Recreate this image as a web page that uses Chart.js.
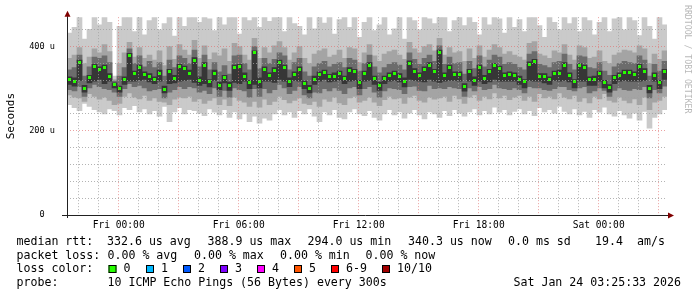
<!DOCTYPE html>
<html>
<head>
<meta charset="utf-8">
<script src="https://cdn.jsdelivr.net/npm/chart.js@4.4.1/dist/chart.umd.min.js"></script>
<style>
  html, body { margin: 0; padding: 0; background: #fff; }
  canvas { display: block; }
</style>
</head>
<body>
<canvas id="smoke" width="697" height="297"></canvas>
<script>
// --- time axis, hours counted from Fri 00:00 ---
const startHour = -31 / 12;   // Thu 21:25
const endHour = 329 / 12;     // Sat 03:25
const stepHour = 0.25;        // one column = 15 min

const xTickHours = [0, 6, 12, 18, 24];
const xTickLabels = ['Fri 00:00', 'Fri 06:00', 'Fri 12:00', 'Fri 18:00', 'Sat 00:00'];
const yTickValues = [0, 100, 200, 300, 400];
const yTickLabels = ['0  ', '100 u', '200 u', '300 u', '400 u'];

// median rtt per column (us)
const median = [
  322, 318, 362, 300, 326, 352, 345, 350, 330, 310,
  300, 322, 378, 335, 350, 333, 330, 322, 336, 298,
  340, 325, 352, 348, 337, 368, 320, 355, 316, 337,
  308, 326, 308, 350, 352, 330, 314, 385, 318, 346,
  332, 344, 362, 350, 318, 334, 345, 312, 300, 322,
  333, 338, 328, 330, 336, 324, 344, 340, 314, 336,
  355, 324, 308, 324, 332, 335, 330, 318, 360, 342,
  332, 346, 355, 340, 386, 332, 350, 333, 334, 305,
  340, 320, 350, 325, 340, 354, 348, 332, 333, 332,
  322, 316, 358, 364, 330, 329, 322, 336, 337, 356,
  331, 316, 354, 350, 322, 322, 336, 314, 302, 326,
  332, 338, 338, 334, 352, 342, 300, 332, 314, 340
];

// smoke: fastest / slowest ping per column
const outerLo = [
  262, 255, 248, 265, 258, 250, 245, 240, 252, 248,
  238, 255, 250, 260, 245, 252, 240, 248, 235, 258,
  222, 245, 255, 240, 250, 248, 242, 236, 252, 244,
  238, 250, 232, 245, 228, 240, 222, 235, 218, 230,
  225, 240, 250, 238, 245, 232, 248, 240, 252, 235,
  222, 245, 238, 250, 232, 228, 245, 252, 240, 236,
  248, 232, 225, 240, 250, 238, 245, 230, 242, 250,
  238, 228, 245, 240, 232, 248, 236, 250, 242, 235,
  245, 252, 238, 248, 240, 256, 244, 250, 238, 246,
  252, 240, 248, 236, 255, 245, 250, 242, 258, 246,
  240, 252, 238, 246, 232, 250, 244, 256, 240, 235,
  248, 238, 230, 242, 225, 246, 206, 232, 240, 250
];
const outerHi = [
  432, 446, 470, 418, 441, 470, 452, 470, 458, 330,
  448, 470, 470, 436, 470, 428, 462, 470, 440, 455,
  470, 425, 470, 448, 470, 470, 458, 470, 466, 438,
  470, 452, 470, 470, 430, 470, 462, 470, 446, 470,
  460, 470, 470, 436, 470, 455, 448, 428, 470, 442,
  470, 456, 470, 430, 464, 470, 446, 470, 422, 458,
  470, 438, 452, 470, 428, 442, 470, 418, 470, 462,
  440, 470, 466, 455, 470, 470, 436, 462, 470, 450,
  470, 458, 428, 470, 452, 470, 466, 432, 470, 446,
  464, 436, 470, 470, 450, 422, 470, 458, 440, 470,
  455, 470, 436, 470, 462, 428, 458, 470, 436, 466,
  470, 440, 470, 462, 426, 470, 448, 418, 470, 452
];

// 2nd and 9th ping
const midLo = [
  285, 280, 278, 270, 288, 282, 275, 280, 272, 262,
  265, 282, 290, 280, 276, 284, 272, 278, 270, 268,
  262, 275, 280, 278, 282, 270, 276, 265, 272, 278,
  262, 275, 260, 280, 272, 268, 258, 270, 256, 275,
  262, 270, 282, 274, 266, 272, 278, 265, 262, 270,
  258, 275, 270, 280, 266, 262, 278, 282, 268, 272,
  280, 268, 260, 274, 282, 276, 278, 265, 280, 284,
  272, 268, 280, 275, 278, 282, 270, 284, 276, 265,
  280, 285, 272, 282, 276, 290, 278, 284, 274, 280,
  284, 272, 282, 270, 288, 278, 282, 276, 290, 280,
  276, 284, 270, 278, 266, 282, 276, 288, 272, 268,
  280, 272, 266, 276, 262, 280, 250, 268, 272, 282
];
const midHi = [
  372, 380, 398, 360, 375, 395, 385, 405, 388, 322,
  360, 385, 410, 375, 398, 372, 380, 368, 390, 355,
  400, 370, 405, 392, 380, 415, 372, 402, 370, 385,
  378, 395, 365, 408, 400, 380, 368, 420, 372, 398,
  385, 402, 412, 398, 368, 385, 400, 372, 360, 382,
  390, 395, 375, 380, 392, 372, 398, 395, 362, 385,
  405, 378, 365, 382, 388, 392, 380, 370, 410, 395,
  385, 400, 405, 390, 420, 380, 398, 385, 388, 365,
  395, 372, 402, 375, 392, 405, 398, 382, 388, 380,
  375, 368, 408, 412, 382, 378, 372, 390, 385, 405,
  380, 368, 402, 398, 372, 375, 390, 365, 360, 380,
  385, 392, 390, 385, 402, 395, 360, 382, 370, 390
];

// 3rd and 8th ping
const innerLo = [
  298, 295, 305, 282, 302, 310, 305, 300, 298, 292,
  282, 300, 312, 305, 308, 302, 295, 298, 300, 278,
  292, 298, 305, 300, 305, 302, 292, 296, 288, 302,
  282, 296, 280, 302, 298, 295, 280, 300, 282, 300,
  290, 298, 310, 302, 288, 296, 305, 285, 278, 292,
  290, 300, 295, 302, 296, 288, 302, 305, 285, 300,
  305, 292, 280, 295, 302, 300, 298, 288, 305, 306,
  296, 295, 308, 300, 302, 300, 305, 302, 300, 282,
  302, 295, 305, 298, 300, 310, 302, 300, 298, 302,
  298, 290, 305, 302, 302, 298, 296, 300, 305, 305,
  298, 295, 302, 305, 290, 295, 302, 296, 282, 296,
  302, 298, 296, 300, 298, 305, 278, 298, 290, 306
];
const innerHi = [
  345, 350, 380, 330, 352, 375, 372, 378, 362, 318,
  330, 350, 395, 360, 378, 352, 365, 350, 362, 330,
  368, 350, 378, 372, 360, 392, 352, 380, 345, 362,
  340, 355, 335, 378, 380, 360, 345, 400, 348, 372,
  360, 370, 385, 378, 345, 362, 372, 340, 330, 352,
  360, 365, 352, 358, 362, 350, 372, 368, 342, 360,
  380, 352, 338, 350, 358, 362, 356, 345, 385, 370,
  358, 372, 380, 365, 402, 358, 375, 360, 362, 335,
  365, 348, 378, 352, 368, 380, 375, 358, 362, 358,
  350, 345, 382, 388, 358, 355, 350, 362, 365, 382,
  358, 345, 378, 376, 350, 348, 362, 342, 332, 352,
  360, 365, 362, 360, 378, 368, 330, 358, 342, 365
];

// 4th..7th ping
const coreLo = [
  310, 306, 320, 292, 314, 318, 322, 312, 318, 302,
  292, 310, 318, 318, 320, 322, 316, 312, 318, 290,
  312, 314, 318, 320, 322, 315, 308, 312, 304, 320,
  298, 314, 296, 315, 312, 318, 300, 310, 302, 318,
  318, 315, 322, 318, 305, 320, 318, 300, 290, 310,
  318, 322, 316, 318, 320, 312, 318, 320, 300, 318,
  320, 310, 296, 312, 318, 320, 316, 304, 322, 320,
  318, 316, 322, 318, 315, 318, 320, 320, 318, 294,
  318, 308, 318, 312, 316, 322, 318, 318, 318, 318,
  310, 302, 320, 318, 318, 314, 310, 320, 318, 320,
  316, 302, 318, 318, 308, 308, 318, 302, 292, 312,
  318, 320, 318, 318, 318, 320, 290, 318, 300, 322
];
const coreHi = [
  328, 326, 368, 308, 332, 358, 352, 356, 336, 314,
  306, 328, 384, 342, 356, 340, 336, 328, 344, 306,
  346, 332, 358, 354, 344, 374, 328, 362, 322, 344,
  316, 332, 316, 356, 358, 338, 320, 390, 326, 352,
  338, 350, 368, 356, 326, 340, 352, 318, 308, 330,
  340, 344, 334, 338, 342, 330, 350, 346, 320, 342,
  362, 330, 316, 330, 338, 342, 336, 326, 366, 348,
  338, 352, 362, 346, 392, 338, 356, 340, 340, 312,
  346, 328, 356, 332, 346, 360, 354, 338, 340, 338,
  330, 322, 364, 370, 336, 336, 328, 342, 344, 362,
  338, 322, 360, 356, 328, 330, 342, 320, 310, 332,
  338, 344, 344, 340, 358, 348, 308, 338, 320, 346
];

// legend texts
const rttStats = ['332.6 us avg', '388.9 us max', '294.0 us min', '340.3 us now', '0.0 ms sd', '19.4', 'am/s'];
const lossStats = ['0.00 % avg', '0.00 % max', '0.00 % min', '0.00 % now'];
const lossLabels = ['0', '1', '2', '3', '4', '5', '6-9', '10/10'];
const lossColors = ['#26ff00', '#00b8ff', '#0059ff', '#7e00ff', '#ff00ff', '#ff5500', '#ff0000', '#a10000'];
const probeText = '10 ICMP Echo Pings (56 Bytes) every 300s';
const stampText = 'Sat Jan 24 03:25:33 2026';

const MONO = '"DejaVu Sans Mono", monospace';
const minorGrid = 'rgba(160,160,160,0.8)';
const majorGrid = 'rgba(225,110,110,0.65)';

const xs = median.map((_, i) => startHour + stepHour * (i + 0.5));
const hourTicks = [];
for (let h = Math.ceil(startHour); h <= endHour; h++) hourTicks.push(h);
const yGrid = [];
for (let v = 0; v <= 460; v += 20) yGrid.push(v);

function band(lo, hi, color, order) {
  return {
    type: 'bar',
    data: lo.map((v, i) => ({ x: xs[i], y: [v, hi[i]] })),
    backgroundColor: color,
    borderWidth: 0,
    borderSkipped: false,
    barThickness: 5,
    grouped: false,
    order: order
  };
}

// small green block for the median marks
const dot = document.createElement('canvas');
dot.width = 3;
dot.height = 3;
const dctx = dot.getContext('2d');
dctx.fillStyle = lossColors[0];
dctx.fillRect(0, 0, 3, 3);

const rrdExtras = {
  id: 'rrdExtras',
  afterDraw(chart) {
    const ctx = chart.ctx;
    const a = chart.chartArea;
    ctx.save();

    // axes + arrows
    ctx.strokeStyle = '#212121';
    ctx.lineWidth = 1;
    ctx.beginPath();
    ctx.moveTo(a.left - 5, a.bottom + 0.5);
    ctx.lineTo(a.right + 2, a.bottom + 0.5);
    ctx.moveTo(a.left + 0.5, a.bottom + 3);
    ctx.lineTo(a.left + 0.5, a.top - 1);
    ctx.stroke();
    ctx.fillStyle = '#800000';
    ctx.beginPath();
    ctx.moveTo(a.right + 1, a.bottom - 2.5);
    ctx.lineTo(a.right + 7, a.bottom + 0.5);
    ctx.lineTo(a.right + 1, a.bottom + 3.5);
    ctx.fill();
    ctx.beginPath();
    ctx.moveTo(a.left - 2.5, a.top - 0.5);
    ctx.lineTo(a.left + 0.5, a.top - 6.5);
    ctx.lineTo(a.left + 3.5, a.top - 0.5);
    ctx.fill();

    // legend
    ctx.fillStyle = '#000';
    ctx.font = '11.6px ' + MONO;
    ctx.textBaseline = 'alphabetic';
    ctx.textAlign = 'left';
    ctx.fillText('median rtt:', 16.5, 245);
    [107, 207.5, 307.5, 408, 508, 595, 637].forEach((x, i) => ctx.fillText(rttStats[i], x, 245));
    ctx.fillText('packet loss:', 16.5, 258.5);
    [107.5, 194, 280, 365.5].forEach((x, i) => ctx.fillText(lossStats[i], x, 258.5));
    ctx.fillText('loss color:', 16.5, 272);
    [108.5, 146, 183, 220, 257, 294, 331, 382].forEach((x, i) => {
      ctx.fillStyle = lossColors[i];
      ctx.fillRect(x, 265, 8, 8);
      ctx.strokeStyle = '#000';
      ctx.strokeRect(x + 0.5, 265.5, 7, 7);
      ctx.fillStyle = '#000';
      ctx.fillText(lossLabels[i], x + 15, 272);
    });
    ctx.fillText('probe:', 16.5, 285.5);
    ctx.fillText(probeText, 107.5, 285.5);
    ctx.textAlign = 'right';
    ctx.fillText(stampText, 681, 285.5);

    // watermark
    ctx.translate(685, 5);
    ctx.rotate(Math.PI / 2);
    ctx.textAlign = 'left';
    ctx.fillStyle = '#b8b8b8';
    ctx.font = '8.2px ' + MONO;
    ctx.fillText('RRDTOOL / TOBI OETIKER', 0, 0);
    ctx.restore();
  }
};

new Chart(document.getElementById('smoke'), {
  type: 'bar',
  data: {
    datasets: [
      {
        type: 'line',
        data: median.map((v, i) => ({ x: xs[i], y: v })),
        showLine: false,
        pointStyle: dot,
        pointRadius: 2,
        order: 0
      },
      band(coreLo, coreHi, '#363636', 1),
      band(innerLo, innerHi, '#6c6c6c', 2),
      band(midLo, midHi, '#a4a4a4', 3),
      band(outerLo, outerHi, '#cacaca', 4)
    ]
  },
  options: {
    responsive: false,
    animation: false,
    events: [],
    layout: { padding: { top: 14, right: 30, left: 0, bottom: 0 } },
    plugins: { legend: { display: false }, tooltip: { enabled: false } },
    scales: {
      x: {
        type: 'linear',
        min: startHour,
        max: endHour,
        offset: false,
        afterBuildTicks: s => { s.ticks = hourTicks.map(v => ({ value: v })); },
        afterFit: s => { s.height = 82; },
        grid: {
          color: c => (c.tick && c.tick.value % 3 === 0) ? majorGrid : minorGrid,
          drawTicks: false,
          offset: false,
          z: 1
        },
        border: { display: false, dash: [1, 2] },
        ticks: {
          autoSkip: false,
          maxRotation: 0,
          padding: 5,
          color: '#000',
          font: { family: MONO, size: 9.6 },
          callback: v => {
            const k = xTickHours.indexOf(v);
            return k < 0 ? '' : xTickLabels[k];
          }
        }
      },
      y: {
        min: 0,
        max: 470,
        afterBuildTicks: s => { s.ticks = yGrid.map(v => ({ value: v })); },
        afterFit: s => { s.width = 67; },
        grid: {
          color: c => (c.tick && c.tick.value % 100 === 0) ? majorGrid : minorGrid,
          drawTicks: false,
          z: 1
        },
        border: { display: false, dash: [1, 2] },
        ticks: {
          padding: 12,
          color: '#000',
          font: { family: MONO, size: 8.6 },
          callback: v => {
            const k = yTickValues.indexOf(v);
            return k < 0 ? '' : yTickLabels[k];
          }
        },
        title: {
          display: true,
          text: 'Seconds',
          color: '#000',
          font: { family: MONO, size: 11 },
          padding: { top: 4.4, bottom: 0 }
        }
      }
    }
  },
  plugins: [rrdExtras]
});
</script>
</body>
</html>
